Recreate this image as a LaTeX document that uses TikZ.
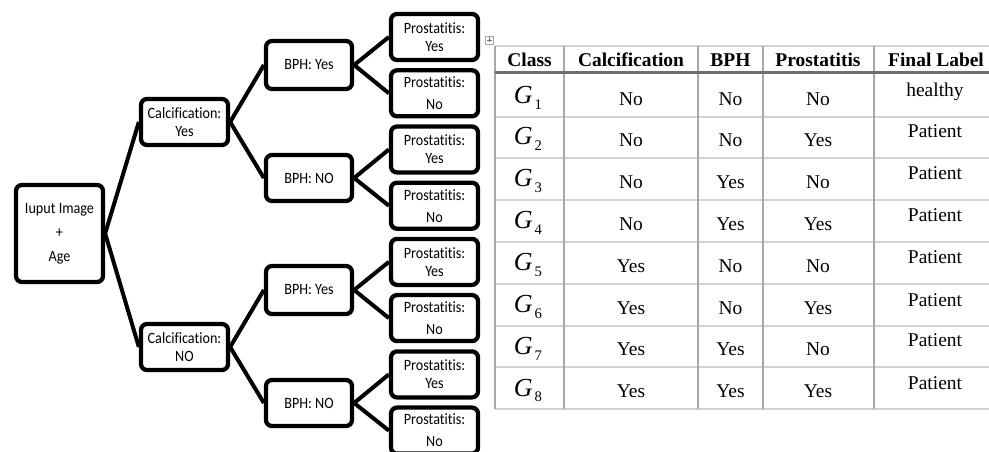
\documentclass[tikz,border=0pt]{standalone}
\usepackage{fontspec}
\setmainfont{Liberation Serif}
\newfontfamily\treefont[FakeStretch=0.9, Ligatures=NoCommon]{Carlito}
\definecolor{hline}{HTML}{D2D2D2}
\definecolor{vline}{HTML}{A8A8A8}
\definecolor{rule}{HTML}{6E6E6E}
\begin{document}
\begin{tikzpicture}[x=0.75pt,y=-0.75pt,
  box/.style={draw=black, line width=3.2pt, rounded corners=4.5pt, fill=white,
    font=\treefont\fontsize{11.8}{13.5}\selectfont, align=center, inner sep=0pt,
    minimum width=65.25pt, minimum height=34.5pt},
  conn/.style={draw=black, line width=3pt},
  head/.style={font=\bfseries\fontsize{14.6}{16}\selectfont, inner sep=0pt, anchor=base},
  cell/.style={font=\fontsize{14.6}{16}\selectfont, inner sep=0pt, anchor=base},
  gcell/.style={font=\fontsize{19.5}{20}\selectfont, inner sep=0pt, anchor=base}]
\useasboundingbox (0,0) rectangle (989,452);
\fill[white] (0,0) rectangle (989,452);
% ---------- tree ----------
\node[box, minimum height=72.75pt] (root) at (59.5,233.5) {Iuput Image\\[4.6pt]+\\[4.6pt]Age};
\node[box] (cy) at (184.5,122) {Calcification:\\Yes};
\node[box] (cn) at (184.5,347) {Calcification:\\NO};
\node[box, minimum width=64.5pt, minimum height=36pt] (b1) at (309,65) {BPH: Yes};
\node[box, minimum width=64.5pt] (b2) at (309,178) {BPH: NO};
\node[box, minimum width=64.5pt, minimum height=36pt] (b3) at (309,290) {BPH: Yes};
\node[box, minimum width=64.5pt] (b4) at (309,403) {BPH: NO};
\node[box] (l1) at (434.5,37) {Prostatitis:\\Yes};
\node[box] (l2) at (434.5,93.3) {Prostatitis:\\[3pt]No};
\node[box] (l3) at (434.5,149.5) {Prostatitis:\\Yes};
\node[box] (l4) at (434.5,205.7) {Prostatitis:\\[3pt]No};
\node[box] (l5) at (434.5,261.9) {Prostatitis:\\Yes};
\node[box] (l6) at (434.5,318.1) {Prostatitis:\\[3pt]No};
\node[box] (l7) at (434.5,374.4) {Prostatitis:\\Yes};
\node[box] (l8) at (434.5,430.6) {Prostatitis:\\[3pt]No};
\draw[conn] (root.east) -- (cy.west);
\draw[conn] (root.east) -- (cn.west);
\draw[conn] (cy.east) -- (b1.west);
\draw[conn] (cy.east) -- (b2.west);
\draw[conn] (cn.east) -- (b3.west);
\draw[conn] (cn.east) -- (b4.west);
\draw[conn] (b1.east) -- (l1.west);
\draw[conn] (b1.east) -- (l2.west);
\draw[conn] (b2.east) -- (l3.west);
\draw[conn] (b2.east) -- (l4.west);
\draw[conn] (b3.east) -- (l5.west);
\draw[conn] (b3.east) -- (l6.west);
\draw[conn] (b4.east) -- (l7.west);
\draw[conn] (b4.east) -- (l8.west);
% ---------- table handle icon ----------
\draw[vline, line width=0.5pt, fill=white] (485.5,36) rectangle (493.5,44);
\draw[rule, line width=0.5pt] (487,40) -- (492,40) (489.5,37.5) -- (489.5,42.5);
% ---------- table grid ----------
\foreach \y in {117,158,200,242,284,326,367,409}
  \draw[hline, line width=1pt] (495,\y) -- (1000,\y);
\draw[hline, line width=1pt] (495,46) -- (1000,46);
\foreach \x in {495,564,698,763,874}
  \draw[vline, line width=1pt] (\x,46) -- (\x,409);
\draw[rule, line width=1.9pt] (495,72.5) -- (1000,72.5);
% ---------- header ----------
\node[head] (hc) at (529.5,67) {Class};
\node[head] (hca) at (631,67) {Calcification};
\node[head] (hb) at (730.5,67) {BPH};
\node[head] (hp) at (818,67) {Prostatitis};
\node[head] (hf) at (936,67) {Final Label};
% ---------- rows ----------
\foreach \i/\c/\b/\p/\f/\yb in {1/No/No/No/healthy/117, 2/No/No/Yes/Patient/158,
   3/No/Yes/No/Patient/200, 4/No/Yes/Yes/Patient/242, 5/Yes/No/No/Patient/284,
   6/Yes/No/Yes/Patient/326, 7/Yes/Yes/No/Patient/367, 8/Yes/Yes/Yes/Patient/409} {
  \node[gcell] (g\i) at (528,\yb-13) {\itshape G\hspace{1.5pt}\raisebox{-4.5pt}{\fontsize{11}{12}\selectfont\upshape\i}};
  \node[cell] (c\i) at (631,\yb-11.5) {\c};
  \node[cell] (b\i x) at (730.5,\yb-11.5) {\b};
  \node[cell] (p\i) at (818,\yb-11.5) {\p};
  \node[cell] (f\i) at (935,\yb-20) {\f};
}
\end{tikzpicture}
\end{document}
